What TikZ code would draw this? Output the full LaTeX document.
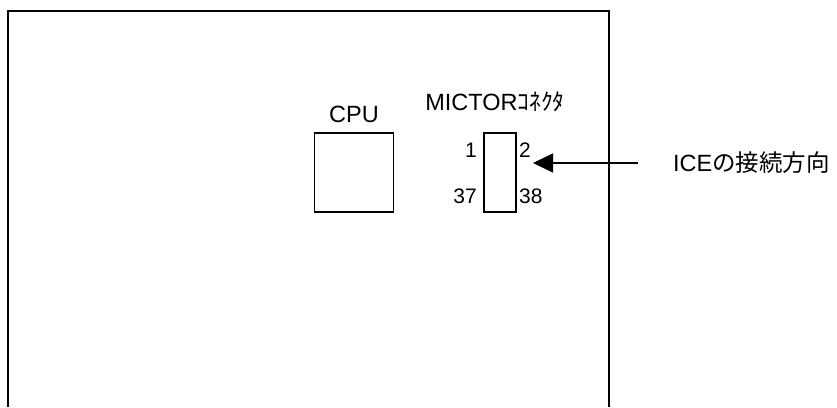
\documentclass[tikz,border=0pt]{standalone}
\usepackage{fontspec}
\setmainfont{Liberation Sans}
\newfontfamily\jp{Noto Sans CJK JP}
\usetikzlibrary{positioning,arrows.meta}
\tikzset{
  board/.style={line width=2pt},
  chip/.style={draw, line width=1.2pt, inner sep=0pt},
  txt/.style={inner sep=0pt, font=\fontsize{23.5}{28}\selectfont},
  pinlabel/.style={inner sep=0pt, font=\fontsize{21}{25}\selectfont},
  icearrow/.style={line width=1.4pt, -{Triangle[length=20pt,width=19pt]}},
}
\begin{document}
\begin{tikzpicture}[x=1pt,y=-1pt]
        \useasboundingbox (0,0) rectangle (837,407);
        % board outline (open at the bottom)
        \draw[board] (8,407) -- (8,11) -- (609,11) -- (609,407);

        % CPU
        \node[chip, minimum width=79pt, minimum height=79pt] (cpu) at (354,172.5) {};
        \node[txt, above=9pt of cpu] (cpulabel) {CPU};

        % MICTOR connector
        \node[chip, minimum width=32pt, minimum height=79pt] (mictor) at (500,172.5) {};
        \node[txt] (mictorlabel) at (495,102) {MICTOR{\jp ｺﾈｸﾀ}};

        % pin numbers
        \node[pinlabel, anchor=east] (p1) at (477,150) {1};
        \node[pinlabel, anchor=east] (p37) at (477,196) {37};
        \node[pinlabel, anchor=west] (p2) at (519,150) {2};
        \node[pinlabel, anchor=west] (p38) at (519,196) {38};

        % direction of ICE
        \coordinate (tip) at (533,163);
        \node[txt, anchor=west] (ice) at (673,163) {ICE{\jp の接続方向}};
        \coordinate (tail) at (638,163);
        \draw[icearrow] (tail) -- (tip);
    \end{tikzpicture}
\end{document}
